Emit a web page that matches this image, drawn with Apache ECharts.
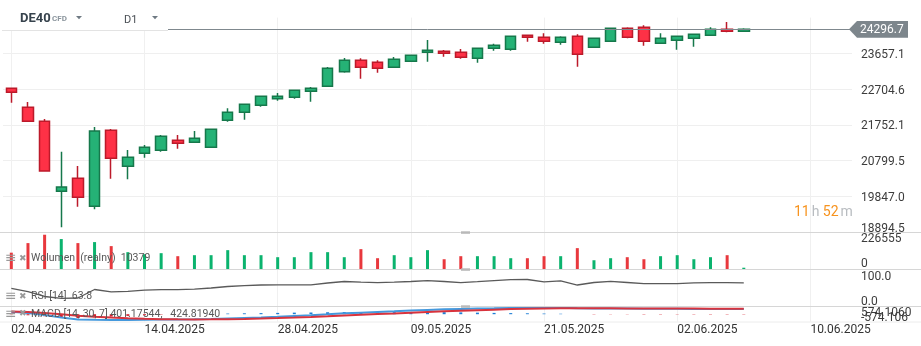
<!DOCTYPE html>
<html>
<head>
<meta charset="utf-8">
<script src="https://cdn.jsdelivr.net/npm/echarts@6/dist/echarts.min.js"></script>
<style>
html, body { margin: 0; padding: 0; background: #ffffff; }
#chart { width: 921px; height: 346px; }
</style>
</head>
<body>
<div id="chart"></div>
<script>
// DE40 CFD, daily candles
const tradingDates = [
  '02.04.2025','03.04.2025','04.04.2025','07.04.2025','08.04.2025','09.04.2025','10.04.2025','11.04.2025',
  '14.04.2025','15.04.2025','16.04.2025','17.04.2025','22.04.2025','23.04.2025','24.04.2025','25.04.2025',
  '28.04.2025','29.04.2025','30.04.2025','02.05.2025','05.05.2025','06.05.2025','07.05.2025','08.05.2025',
  '09.05.2025','12.05.2025','13.05.2025','14.05.2025','15.05.2025','16.05.2025','19.05.2025','20.05.2025',
  '21.05.2025','22.05.2025','23.05.2025','26.05.2025','27.05.2025','28.05.2025','29.05.2025','30.05.2025',
  '02.06.2025','03.06.2025','04.06.2025','05.06.2025','06.06.2025'
];
const futureDates = ['07.06.2025','08.06.2025','09.06.2025','10.06.2025','11.06.2025','12.06.2025'];

const opens  = [22724,22218,21845,19979,20326,19579,21605,20646,20992,21072,21338,21285,21152,21871,22085,22271,
                22447,22484,22644,22777,23167,23470,23417,23284,23444,23684,23710,23684,23524,23790,23764,24137,
                24083,23950,24110,23817,23977,24323,24350,23923,24003,24057,24137,24297,24243];
const closes = [22618,21845,20520,20094,19819,21586,20859,20885,21152,21445,21258,21392,21632,22085,22298,22511,
                22511,22671,22724,23257,23470,23284,23257,23497,23604,23737,23657,23550,23790,23870,24110,24083,
                23977,24083,23630,24057,24323,24083,23977,24057,24110,24163,24297,24243,24296.7];
const lows   = [22340,21830,20505,19020,19569,19500,20315,20299,20875,21035,21115,21275,21140,21834,21887,22234,
                22394,22447,22367,22768,23140,22980,23140,23272,23436,23433,23566,23513,23406,23726,23726,23966,
                23913,23886,23300,23808,23970,24057,23860,23915,23753,23833,24130,24217,24238];
const highs  = [22735,22359,21906,21035,20653,21693,21640,21080,21213,21480,21480,21586,21645,22191,22310,22522,
                22599,22682,22759,23292,23532,23524,23470,23558,23612,24011,23745,23772,23800,23913,24120,24142,
                24190,24110,24163,24066,24332,24350,24403,24190,24118,24172,24350,24491,24323];

const volumes = [109000,171700,226555,198200,171700,178300,151900,112300,99100,105700,85900,92500,92500,125500,92500,92500,
                 79300,79300,112300,112300,79300,132100,72700,92500,79300,125500,66000,85900,85900,85900,72700,72700,
                 85900,85900,138700,59400,72700,79300,66000,85900,92500,66000,79300,92500,10379];

const rsi = [49.2,40.6,27.3,22.5,23.3,46.0,39.8,41.2,44.1,45.5,45.5,46.8,50.0,54.0,56.1,58.0,
             58.6,58.6,58.6,63.4,67.4,65.5,64.2,65.5,67.4,69.5,67.4,64.2,66.8,69.5,72.2,72.7,
             66.6,69.3,58.0,64.7,67.9,64.7,61.5,61.5,61.5,63.9,64.2,64.2,63.8];

const macdLine   = [190,90,-60,-250,-400,-430,-440,-440,-430,-410,-400,-390,-370,-330,-290,-250,
                    -200,-140,-85,-10,70,120,170,220,275,330,375,405,430,450,475,490,
                    490,490,460,435,435,430,415,410,410,405,400,400,401.17544];
const signalLine = [210,170,95,0,-110,-200,-260,-310,-350,-380,-395,-400,-395,-380,-360,-335,
                    -300,-260,-215,-160,-100,-45,10,60,115,170,220,265,310,350,390,420,
                    440,455,460,455,450,445,440,435,430,428,426,425,424.8194];
const macdHist   = [-20,-80,-155,-250,-290,-230,-180,-130,-80,-30,-5,10,25,50,70,85,
                    100,120,130,150,170,165,160,160,160,160,155,140,120,100,85,70,
                    50,35,0,-20,-15,-15,-25,-25,-20,-23,-26,-25,-23.6];

const priceTicks = [18894.5, 19847.0, 20799.5, 21752.1, 22704.6, 23657.1];
const volumeTicks = [0, 226555];
const rsiTicks = [0, 100];
const macdTicks = [-574.106, 574.106];
const macdTickLabels = ['-574.106', '574.1060'];
const lastPrice = 24296.7;
const volumeCaption = 'Wolumen  (realny)  10379';
const rsiCaption = 'RSI [14]  63.8';
const macdCaption = 'MACD [14, 30, 7] 401.17544,   424.81940';

const categories = tradingDates.concat(futureDates);

const UP_FILL = '#25b276', UP_EDGE = '#16784b';
const DN_FILL = '#fe3146', DN_EDGE = '#bc1a2a';
const VOL_UP = '#0bb36e', VOL_DN = '#e8383d';
const FONT = 'Roboto';
const AXIS_TXT = '#3c3c3c';

const GRID_LEFT = 3, GRID_WIDTH = 849;
const panes = [
  { top: 17.6, height: 214.4 },
  { top: 233, height: 36.3 },
  { top: 269.3, height: 37.4 },
  { top: 306.7, height: 15 }
];

const priceInterval = (priceTicks[priceTicks.length - 1] - priceTicks[0]) / (priceTicks.length - 1);
const priceMin = priceTicks[0];
const priceMax = priceMin + priceInterval * priceTicks.length;

const volumeMax = volumeTicks[1] * 1.05;

function rich(pt, pb) {
  return { fontFamily: FONT, fontSize: 12, color: AXIS_TXT, padding: [pt, 0, pb, 0] };
}

const gridOpts = panes.map(p => ({
  left: GRID_LEFT, width: GRID_WIDTH, top: p.top, height: p.height,
  outerBoundsMode: 'none', containLabel: false
}));

const xAxes = panes.map((p, i) => ({
  type: 'category', gridIndex: i, data: categories, boundaryGap: true,
  axisLine: { show: false }, axisTick: { show: false },
  axisLabel: {
    show: i === 3, interval: (idx) => idx % 8 === 0, align: 'left', margin: 2,
    fontFamily: FONT, fontSize: 12, color: '#333333'
  },
  splitLine: {
    show: true, interval: (idx) => idx % 8 === 0, alignWithLabel: true,
    lineStyle: { color: '#f0f0f0', width: 1 }
  }
}));

const yBase = {
  position: 'right', axisLine: { show: false }, axisTick: { show: false },
};

// one axis per visible scale label, so neighbouring labels never suppress each other
function sideAxis(gridIndex, min, max, interval, which, text, pt, pb) {
  return Object.assign({}, yBase, {
    gridIndex: gridIndex, type: 'value', min: min, max: max, interval: interval,
    splitLine: { show: false },
    axisLabel: {
      margin: 9, showMinLabel: which === 'min', showMaxLabel: which === 'max', hideOverlap: false,
      formatter: (v) => {
        const hit = which === 'min' ? Math.abs(v - min) < 1e-6 : Math.abs(v - max) < 1e-6;
        return hit ? '{t|' + text + '}' : '';
      },
      rich: { t: rich(pt, pb) }
    }
  });
}

const yAxes = [
  Object.assign({}, yBase, {
    gridIndex: 0, type: 'value', min: priceMin, max: priceMax, interval: priceInterval,
    splitLine: { show: true, showMinLine: false, showMaxLine: false, lineStyle: { color: '#efefef' } },
    axisLabel: {
      margin: 9, showMinLabel: true, showMaxLabel: false, hideOverlap: false,
      formatter: (v) => {
        const k = Math.round((v - priceMin) / priceInterval);
        if (k >= priceTicks.length) return '';
        const s = priceTicks[k].toFixed(1);
        return k === 0 ? '{lo|' + s + '}' : '{md|' + s + '}';
      },
      rich: { lo: rich(0, 6), md: rich(3, 0) }
    }
  }),
  sideAxis(1, volumeTicks[0], volumeMax, volumeMax, 'min', String(volumeTicks[0]), 0, 11),
  sideAxis(1, volumeTicks[0], volumeTicks[1], volumeTicks[1], 'max', String(volumeTicks[1]), 12, 0),
  sideAxis(2, rsiTicks[0], rsiTicks[1], rsiTicks[1], 'min', rsiTicks[0].toFixed(1), 0, 9),
  sideAxis(2, rsiTicks[0], rsiTicks[1], rsiTicks[1], 'max', rsiTicks[1].toFixed(1), 15, 0),
  sideAxis(3, macdTicks[0], macdTicks[1], macdTicks[1] - macdTicks[0], 'min', macdTickLabels[0], 0, 7),
  sideAxis(3, macdTicks[0], macdTicks[1], macdTicks[1] - macdTicks[0], 'max', macdTickLabels[1], 13, 0)
];

const ohlc = opens.map((o, i) => [o, closes[i], lows[i], highs[i]]);
const isUp = (i) => closes[i] >= opens[i];

const series = [
  {
    type: 'candlestick', xAxisIndex: 0, yAxisIndex: 0, data: ohlc, barWidth: 11,
    itemStyle: { color: UP_FILL, color0: DN_FILL, borderColor: UP_EDGE, borderColor0: DN_EDGE, borderWidth: 1.5 },
    markLine: {
      silent: true, symbol: ['none', 'none'], animation: false,
      label: { show: false },
      lineStyle: { color: '#7f888e', width: 1, type: 'solid' },
      data: [{ yAxis: lastPrice }]
    }
  },
  {
    type: 'bar', xAxisIndex: 1, yAxisIndex: 1, barWidth: 3,
    data: volumes.map((v, i) => ({ value: v, itemStyle: { color: isUp(i) ? VOL_UP : VOL_DN } }))
  },
  {
    type: 'line', xAxisIndex: 2, yAxisIndex: 3, data: rsi, showSymbol: false, symbol: 'none',
    lineStyle: { color: '#5a5a5a', width: 1.3 }
  },
  {
    type: 'bar', xAxisIndex: 3, yAxisIndex: 5, barWidth: 3,
    data: macdHist.map(v => ({ value: v, itemStyle: { color: v >= 0 ? '#1e7fd6' : '#d3222e' } }))
  },
  {
    type: 'line', xAxisIndex: 3, yAxisIndex: 5, data: macdLine, showSymbol: false, symbol: 'none',
    lineStyle: { color: '#4499dd', width: 2 }
  },
  {
    type: 'line', xAxisIndex: 3, yAxisIndex: 5, data: signalLine, showSymbol: false, symbol: 'none',
    lineStyle: { color: '#d8333d', width: 2 }
  }
];

const chart = echarts.init(document.getElementById('chart'), null, { renderer: 'canvas' });
chart.setOption({
  animation: false,
  backgroundColor: '#ffffff',
  grid: gridOpts,
  xAxis: xAxes,
  yAxis: yAxes,
  series: series
});

// overlay: pane separators, captions, header and last-price tag
const tagY = chart.convertToPixel({ yAxisIndex: 0 }, lastPrice);
const g = [];
[232.5, 269.5, 306.5].forEach(y => {
  g.push({ type: 'line', silent: true, z: 50, shape: { x1: 0, y1: y, x2: 921, y2: y }, style: { stroke: '#d6d6d6', lineWidth: 1 } });
  g.push({ type: 'rect', silent: true, z: 51, shape: { x: 461, y: y - 1.2, width: 9, height: 2.5 }, style: { fill: '#b9b9b9' } });
});
g.push({ type: 'line', silent: true, z: 50, shape: { x1: 0, y1: 322, x2: 921, y2: 322 }, style: { stroke: '#ececec', lineWidth: 1 } });

function caption(y, text) {
  g.push({ type: 'text', silent: true, z: 60, x: 5, y: y, style: { text: '\u2261', fontFamily: 'DejaVu Sans', fontSize: 14, fill: '#9a9a9a', verticalAlign: 'middle' } });
  g.push({ type: 'text', silent: true, z: 60, x: 19, y: y - 0.5, style: { text: '\u2716', fontFamily: 'DejaVu Sans', fontSize: 9, fill: '#9a9a9a', verticalAlign: 'middle' } });
  g.push({ type: 'text', silent: true, z: 60, x: 31, y: y, style: { text: text, fontFamily: FONT, fontSize: 10.5, fill: '#585858', verticalAlign: 'middle' } });
}
caption(258.7, volumeCaption);
caption(296.7, rsiCaption);
caption(314.3, macdCaption);

// header
g.push({ type: 'rect', silent: true, z: 70, shape: { x: 0, y: 0, width: 168, height: 30 }, style: { fill: '#ffffff' } });
g.push({ type: 'line', silent: true, z: 71, shape: { x1: 2, y1: 30.5, x2: 168, y2: 30.5 }, style: { stroke: '#e3e3e3', lineWidth: 1 } });
g.push({ type: 'text', silent: true, z: 72, x: 20, y: 18.7, style: { text: 'DE40', fontFamily: FONT, fontWeight: 'bold', fontSize: 13, fill: '#37434d', verticalAlign: 'middle' } });
g.push({ type: 'text', silent: true, z: 72, x: 52, y: 19.3, style: { text: 'CFD', fontFamily: FONT, fontWeight: 'bold', fontSize: 8, fill: '#8b959d', verticalAlign: 'middle' } });
g.push({ type: 'polygon', silent: true, z: 72, shape: { points: [[76, 16], [82, 16], [79, 19.2]] }, style: { fill: '#6f7a83' } });
g.push({ type: 'text', silent: true, z: 72, x: 124, y: 20.3, style: { text: 'D1', fontFamily: FONT, fontSize: 11, fill: '#4a4f55', verticalAlign: 'middle' } });
g.push({ type: 'polygon', silent: true, z: 72, shape: { points: [[152, 16], [158, 16], [155, 19.2]] }, style: { fill: '#6f7a83' } });

// session countdown
g.push({
  type: 'text', silent: true, z: 60, x: 794, y: 212,
  style: {
    text: '{o|11}{g|h} {o|52}{g|m}', verticalAlign: 'middle',
    rich: {
      o: { fontFamily: FONT, fontSize: 14, fill: '#f7931e', color: '#f7931e', padding: [0, 2, 0, 0] },
      g: { fontFamily: FONT, fontSize: 14, fill: '#b8bcc0', color: '#b8bcc0' }
    }
  }
});

// last price tag
g.push({ type: 'polygon', silent: true, z: 65, shape: { points: [[849, tagY], [857, tagY - 8.4], [908, tagY - 8.4], [908, tagY + 8.4], [857, tagY + 8.4]] }, style: { fill: '#7d868c' } });
g.push({ type: 'text', silent: true, z: 66, x: 860, y: tagY + 0.5, style: { text: lastPrice.toFixed(1), fontFamily: FONT, fontSize: 12, fill: '#ffffff', verticalAlign: 'middle' } });

chart.setOption({ graphic: g });
</script>
</body>
</html>
